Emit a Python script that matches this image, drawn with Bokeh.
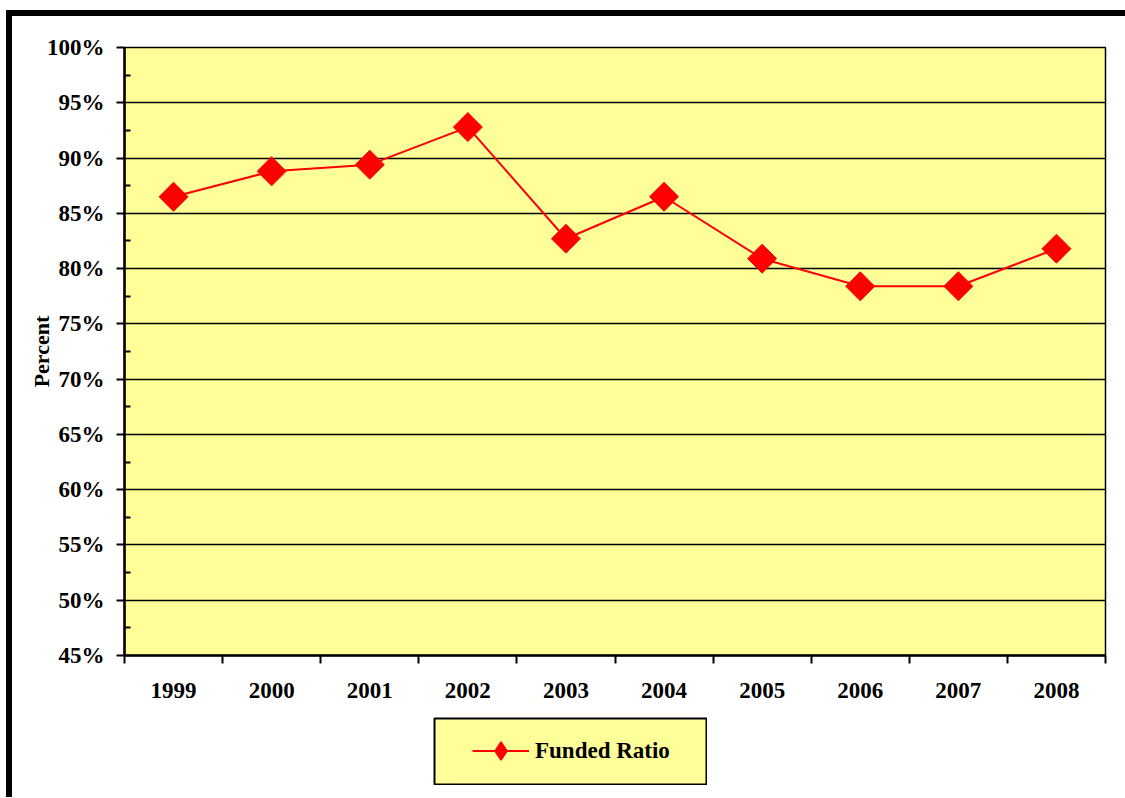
import math
from bokeh.plotting import figure
from bokeh.models import FixedTicker, Legend, LegendItem, ColumnDataSource, Range1d, Spacer
from bokeh.layouts import column, row
from bokeh.embed import file_html
from bokeh.resources import INLINE

years = ["1999", "2000", "2001", "2002", "2003", "2004", "2005", "2006", "2007", "2008"]
funded_ratio = [86.5, 88.8, 89.4, 92.8, 82.7, 86.5, 80.9, 78.4, 78.4, 81.8]
y_ticks = [45, 50, 55, 60, 65, 70, 75, 80, 85, 90, 95, 100]
y_tick_labels = [f"{t}%" for t in y_ticks]
series_name = "Funded Ratio"

FONT = "Liberation Serif"
YELLOW = "#FFFF99"
RED = "#FF0000"

xpos = [i + 0.5 for i in range(len(years))]
src = ColumnDataSource(dict(x=xpos, y=funded_ratio, year=years))

p = figure(frame_width=981, frame_height=608, output_backend="svg", toolbar_location=None,
           x_range=Range1d(0, len(years)), y_range=Range1d(45, 100),
           min_border_left=112, min_border_top=31, min_border_right=20, min_border_bottom=62)

p.background_fill_color = YELLOW
p.border_fill_color = "white"
p.outline_line_color = "black"
p.outline_line_width = 1.5

# x axis: labels at category centres, ticks at boundaries (minor ticks)
p.xaxis.ticker = FixedTicker(ticks=xpos, minor_ticks=list(range(len(years) + 1)))
p.xaxis.major_label_overrides = {x: y for x, y in zip(xpos, years)}
p.xaxis.major_tick_out = 0
p.xaxis.major_tick_in = 0
p.xaxis.minor_tick_out = 8
p.xaxis.minor_tick_in = 0
p.xaxis.minor_tick_line_color = "black"
p.xaxis.minor_tick_line_width = 2
p.xaxis.axis_line_color = "black"
p.xaxis.axis_line_width = 2.5
p.xaxis.major_label_text_font = FONT
p.xaxis.major_label_text_font_style = "bold"
p.xaxis.major_label_text_font_size = "23px"
p.xaxis.major_label_text_color = "black"
p.xaxis.major_label_standoff = 19

# y axis
minor = [t + 2.5 for t in y_ticks[:-1]]
p.yaxis.ticker = FixedTicker(ticks=y_ticks, minor_ticks=minor)
p.yaxis.major_label_overrides = {t: l for t, l in zip(y_ticks, y_tick_labels)}
p.yaxis.major_tick_out = 8
p.yaxis.major_tick_in = 0
p.yaxis.major_tick_line_width = 2
p.yaxis.minor_tick_out = 0
p.yaxis.minor_tick_in = 6
p.yaxis.minor_tick_line_width = 2
p.yaxis.minor_tick_line_color = "black"
p.yaxis.axis_line_color = "black"
p.yaxis.axis_line_width = 2.5
p.yaxis.major_label_text_font = FONT
p.yaxis.major_label_text_font_style = "bold"
p.yaxis.major_label_text_font_size = "23px"
p.yaxis.major_label_text_color = "black"
p.yaxis.major_label_standoff = 12
p.yaxis.axis_label = "Percent"
p.yaxis.axis_label_text_font = FONT
p.yaxis.axis_label_text_font_style = "bold"
p.yaxis.axis_label_text_font_size = "22px"
p.yaxis.axis_label_text_color = "black"
p.yaxis.axis_label_standoff = -10

p.xgrid.grid_line_color = None
p.ygrid.grid_line_color = "black"
p.ygrid.grid_line_width = 1.5

p.line("x", "y", source=src, line_color=RED, line_width=2)
p.scatter("x", "y", source=src, marker="square", angle=math.pi / 4, size=20.5,
          fill_color=RED, line_color=RED)

# legend box: a small figure whose frame is the yellow, black-bordered box
lf = figure(width=274, height=68, output_backend="svg", toolbar_location=None,
            x_axis_type=None, y_axis_type=None,
            x_range=Range1d(0, 1), y_range=Range1d(0, 1), min_border=1)
lf.background_fill_color = YELLOW
lf.border_fill_color = "white"
lf.outline_line_color = "black"
lf.outline_line_width = 2

nan = float("nan")
lg_line = lf.line([nan], [nan], line_color=RED, line_width=2)
lg_mark = lf.scatter([nan], [nan], marker="diamond", size=18,
                     fill_color=RED, line_color=RED, line_width=1.5)
legend = Legend(items=[LegendItem(label=series_name, renderers=[lg_line, lg_mark])],
                location=(38, 11), padding=0, margin=0, spacing=0,
                glyph_width=57, glyph_height=45, label_height=28,
                label_standoff=6,
                border_line_alpha=0, background_fill_alpha=0,
                label_text_font=FONT, label_text_font_style="bold",
                label_text_font_size="23px", label_text_color="black")
lf.add_layout(legend, "center")

layout = column(p, row(Spacer(width=421, height=68), lf), Spacer(width=10, height=12),
                spacing=0)
layout.styles = {"margin-left": "6px", "margin-top": "10px",
                 "border-left": "6px solid black", "border-top": "6px solid black"}

open("out.html", "w").write(file_html(layout, INLINE))
